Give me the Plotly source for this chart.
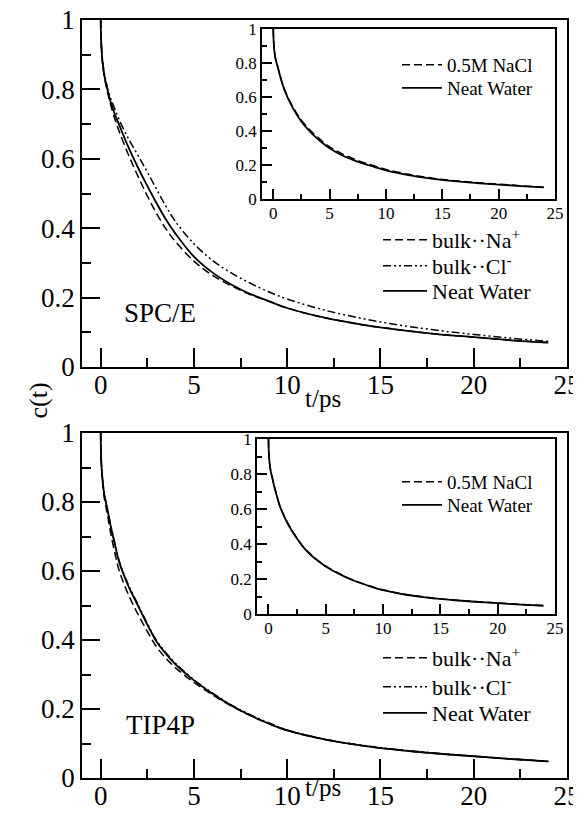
import plotly.graph_objects as go

# ---- data ----
t = [0, 0.02, 0.05, 0.1, 0.2, 0.36, 0.5, 0.75, 1, 1.5, 2, 2.5, 3, 3.5, 4,
     5, 6, 7, 8, 9, 10, 12, 14, 16, 18, 20, 22, 24]

spce_neat = [1, 0.95, 0.915, 0.88, 0.84, 0.80, 0.77, 0.73, 0.697, 0.632, 0.575, 0.522, 0.472, 0.425, 0.385,
             0.318, 0.272, 0.238, 0.211, 0.19, 0.17, 0.142, 0.122, 0.107, 0.095, 0.086, 0.077, 0.07]
spce_na = [1, 0.95, 0.912, 0.875, 0.835, 0.795, 0.762, 0.717, 0.678, 0.61, 0.55, 0.493, 0.442, 0.398, 0.362,
           0.305, 0.264, 0.234, 0.209, 0.19, 0.17, 0.142, 0.122, 0.107, 0.095, 0.086, 0.077, 0.07]
spce_cl = [1, 0.95, 0.918, 0.885, 0.845, 0.805, 0.78, 0.745, 0.712, 0.657, 0.61, 0.562, 0.512, 0.463, 0.42,
           0.355, 0.307, 0.271, 0.242, 0.217, 0.196, 0.164, 0.14, 0.121, 0.106, 0.094, 0.083, 0.074]

inset_spce_neat = [1, 0.95, 0.91, 0.87, 0.825, 0.785, 0.75, 0.69, 0.64, 0.565, 0.505, 0.455, 0.415, 0.38, 0.35,
                   0.298, 0.26, 0.232, 0.208, 0.188, 0.168, 0.14, 0.12, 0.105, 0.094, 0.085, 0.076, 0.068]
inset_spce_nacl = [1, 0.95, 0.91, 0.87, 0.826, 0.787, 0.752, 0.693, 0.645, 0.572, 0.513, 0.463, 0.423, 0.39, 0.36,
                   0.307, 0.269, 0.24, 0.215, 0.194, 0.174, 0.145, 0.124, 0.108, 0.097, 0.087, 0.078, 0.069]

tip4p_neat = [1, 0.94, 0.9, 0.865, 0.82, 0.78, 0.74, 0.68, 0.625, 0.555, 0.5, 0.445, 0.395, 0.36, 0.33,
              0.283, 0.244, 0.21, 0.182, 0.158, 0.138, 0.112, 0.094, 0.081, 0.071, 0.063, 0.055, 0.048]
tip4p_na = [1, 0.94, 0.895, 0.86, 0.81, 0.765, 0.72, 0.655, 0.6, 0.53, 0.475, 0.425, 0.38, 0.347, 0.32,
            0.277, 0.241, 0.209, 0.182, 0.158, 0.138, 0.112, 0.094, 0.081, 0.071, 0.063, 0.055, 0.048]
tip4p_cl = [1, 0.94, 0.9, 0.866, 0.822, 0.782, 0.743, 0.683, 0.628, 0.558, 0.503, 0.448, 0.398, 0.363, 0.333,
            0.285, 0.246, 0.212, 0.184, 0.16, 0.139, 0.113, 0.095, 0.082, 0.072, 0.063, 0.055, 0.048]

inset_tip4p_neat = [1, 0.94, 0.9, 0.86, 0.815, 0.77, 0.73, 0.67, 0.615, 0.54, 0.48, 0.43, 0.385, 0.35, 0.32,
                    0.272, 0.235, 0.203, 0.177, 0.155, 0.136, 0.11, 0.092, 0.08, 0.07, 0.062, 0.054, 0.047]
inset_tip4p_nacl = [1, 0.94, 0.9, 0.861, 0.817, 0.772, 0.732, 0.672, 0.617, 0.542, 0.482, 0.432, 0.387, 0.352, 0.322,
                    0.274, 0.237, 0.205, 0.179, 0.157, 0.138, 0.112, 0.094, 0.081, 0.071, 0.063, 0.055, 0.048]

main_labels = ["bulk··Na<sup>+</sup>", "bulk··Cl<sup>-</sup>", "Neat Water"]
inset_labels = ["0.5M NaCl", "Neat Water"]
panel_names = ["SPC/E", "TIP4P"]

FONT = "'Liberation Serif', 'Times New Roman', Times, serif"
DASH = "8px,4px"
DASHDOT = "8px,3px,2px,3px,2px,3px"

# page offset of the plot div (default body margin) and figure size (no scrollbars)
OFF = 8
FW, FH = 581 - OFF, 825 - 2 * OFF

def fx(a):
    return (a - OFF) / FW
def fy(b):
    return 1 - (b - OFF) / FH
def px(a, b):
    return [fx(a), fx(b)]
def py(top, bottom):
    return [fy(bottom), fy(top)]

fig = go.Figure()

def add(x, y, xa, ya, name, dash, width, legend):
    fig.add_trace(go.Scatter(x=x, y=y, xaxis=xa, yaxis=ya, name=name, mode="lines",
                             line=dict(color="black", width=width, dash=dash, shape="spline", smoothing=1.0),
                             legend=legend, showlegend=True))

# top main
add(t, spce_na, "x", "y", main_labels[0], DASH, 1.5, "legend")
add(t, spce_cl, "x", "y", main_labels[1], DASHDOT, 1.5, "legend2")
add(t, spce_neat, "x", "y", main_labels[2], "solid", 1.8, "legend3")
# top inset
add(t, inset_spce_nacl, "x2", "y2", inset_labels[0], DASH, 1.5, "legend4")
add(t, inset_spce_neat, "x2", "y2", inset_labels[1], "solid", 1.8, "legend5")
# bottom main
add(t, tip4p_na, "x3", "y3", main_labels[0], DASH, 1.5, "legend6")
add(t, tip4p_cl, "x3", "y3", main_labels[1], DASHDOT, 1.5, "legend7")
add(t, tip4p_neat, "x3", "y3", main_labels[2], "solid", 1.8, "legend8")
# bottom inset
add(t, inset_tip4p_nacl, "x4", "y4", inset_labels[0], DASH, 1.5, "legend9")
add(t, inset_tip4p_neat, "x4", "y4", inset_labels[1], "solid", 1.8, "legend10")

def xax(domain, anchor, big):
    L = 19 if big else 10
    return dict(domain=domain, anchor=anchor, range=[-1, 25], tick0=0, dtick=5,
                ticks="inside", ticklen=L, tickwidth=1.5, tickcolor="black",
                minor=dict(ticks="inside", ticklen=L // 2, dtick=2.5, tick0=0, tickwidth=1.5, tickcolor="black"),
                showline=True, linecolor="black", linewidth=1.8, mirror=True,
                showgrid=False, zeroline=False, automargin=False,
                ticklabeloverflow="allow",
                ticklabelstandoff=-7 if big else -2,
                tickfont=dict(family=FONT, size=27 if big else 17, color="black"))

def yax(domain, anchor, big):
    L = 18 if big else 10
    return dict(domain=domain, anchor=anchor, range=[0, 1], tick0=0, dtick=0.2,
                ticks="inside", ticklen=L, tickwidth=1.5, tickcolor="black",
                minor=dict(ticks="inside", ticklen=L // 2, dtick=0.1, tick0=0, tickwidth=1.5, tickcolor="black"),
                showline=True, linecolor="black", linewidth=1.8, mirror=True,
                showgrid=False, zeroline=False, automargin=False,
                ticklabeloverflow="allow",
                tickfont=dict(family=FONT, size=27 if big else 17, color="black"))

def leg(x0, yline, size, iw):
    return dict(x=fx(x0), y=fy(yline), xanchor="left", yanchor="middle",
                bgcolor="rgba(0,0,0,0)", borderwidth=0,
                font=dict(family=FONT, size=size, color="black"),
                tracegroupgap=0, itemwidth=iw)

fig.update_layout(
    width=FW, height=FH, margin=dict(l=0, r=0, t=0, b=0, autoexpand=False),
    paper_bgcolor="white", plot_bgcolor="white",
    font=dict(family=FONT, color="black"),
    xaxis=xax(px(82, 567), "y", True), yaxis=yax(py(20, 367), "x", True),
    xaxis2=xax(px(262, 555), "y2", False), yaxis2=yax(py(29, 199), "x2", False),
    xaxis3=xax(px(82, 567), "y3", True), yaxis3=yax(py(433, 778), "x3", True),
    xaxis4=xax(px(257, 555), "y4", False), yaxis4=yax(py(439, 614), "x4", False),
    legend=leg(378, 240, 22, 44),
    legend2=leg(378, 266, 22, 44),
    legend3=leg(378, 291, 22, 44),
    legend4=leg(397, 65, 19, 40),
    legend5=leg(397, 88, 19, 40),
    legend6=leg(378, 658, 22, 44),
    legend7=leg(378, 687, 22, 44),
    legend8=leg(378, 713, 22, 44),
    legend9=leg(397, 482, 19, 40),
    legend10=leg(397, 505, 19, 40),
)

fig.add_annotation(x=3.2, y=0.156, xref="x", yref="y", text=panel_names[0], showarrow=False,
                   font=dict(family=FONT, size=27, color="black"))
fig.add_annotation(x=3.2, y=0.154, xref="x3", yref="y3", text=panel_names[1], showarrow=False,
                   font=dict(family=FONT, size=27, color="black"))
for yy in [398, 803]:
    fig.add_annotation(x=fx(323), y=fy(yy), xref="paper", yref="paper", text="t/ps", showarrow=False,
                       font=dict(family=FONT, size=25, color="black"))
fig.add_annotation(x=fx(21), y=fy(401), xref="paper", yref="paper", text="c(t)", showarrow=False,
                   textangle=-90, font=dict(family=FONT, size=26, color="black"))

fig.write_html("out.html")
